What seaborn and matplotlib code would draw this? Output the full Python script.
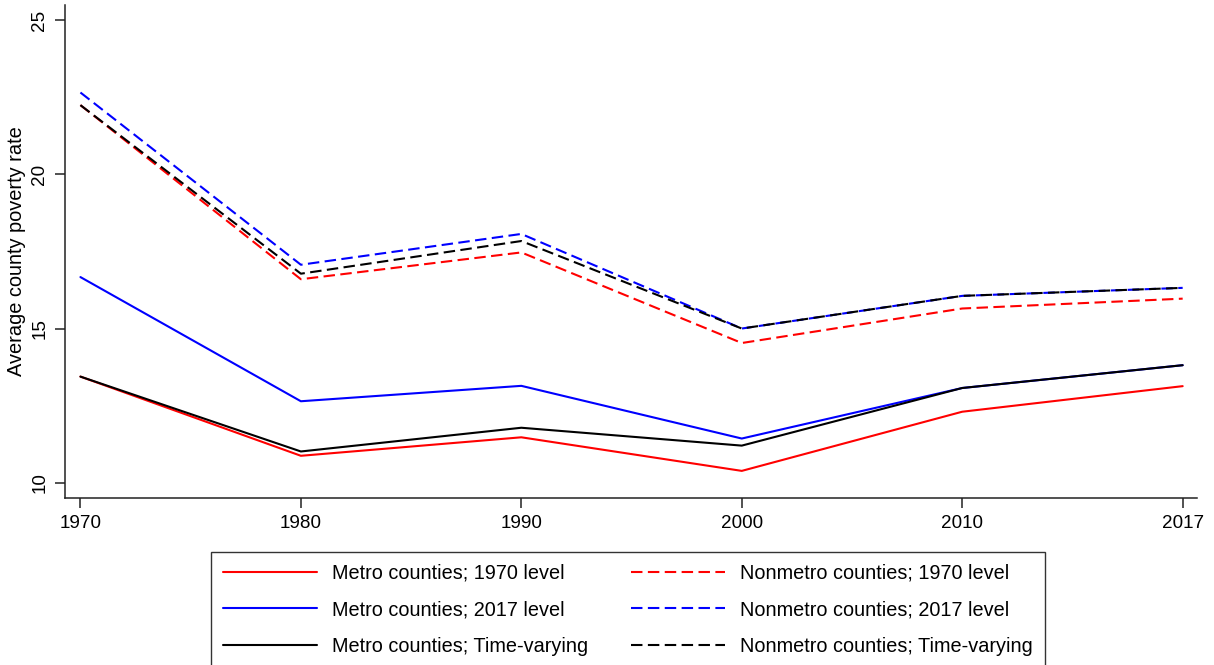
import matplotlib
matplotlib.use("Agg")
import matplotlib.pyplot as plt
import seaborn as sns
import pandas as pd

# Census years shown as evenly spaced categories
years = ["1970", "1980", "1990", "2000", "2010", "2017"]

# Average county poverty rate (%) under different metro definitions
metro_1970_level = [13.44, 10.87, 11.47, 10.38, 12.30, 13.13]
metro_2017_level = [16.67, 12.64, 13.14, 11.43, 13.07, 13.81]
metro_time_varying = [13.44, 11.01, 11.78, 11.20, 13.07, 13.81]
nonmetro_1970_level = [22.25, 16.60, 17.47, 14.53, 15.65, 15.97]
nonmetro_2017_level = [22.66, 17.07, 18.07, 15.00, 16.06, 16.32]
nonmetro_time_varying = [22.25, 16.78, 17.84, 15.00, 16.06, 16.32]

series_labels = [
    "Metro counties; 1970 level",
    "Metro counties; 2017 level",
    "Metro counties; Time-varying",
    "Nonmetro counties; 1970 level",
    "Nonmetro counties; 2017 level",
    "Nonmetro counties; Time-varying",
]
series_values = [
    metro_1970_level, metro_2017_level, metro_time_varying,
    nonmetro_1970_level, nonmetro_2017_level, nonmetro_time_varying,
]
series_colors = ["#ff0000", "#0000ff", "#000000", "#ff0000", "#0000ff", "#000000"]

rows = []
for label, vals in zip(series_labels, series_values):
    for yr, v in zip(years, vals):
        rows.append({"year": yr, "rate": v, "series": label})
df = pd.DataFrame(rows)

sns.set_theme(style="ticks")
plt.rcParams["font.family"] = ["Liberation Sans", "DejaVu Sans"]

fig = plt.figure(figsize=(12.14, 6.65), dpi=100)
ax = fig.add_axes([65 / 1214, 1 - 498 / 665, (1197 - 65) / 1214, (498 - 5) / 665])

palette = dict(zip(series_labels, series_colors))
dashes = {lab: ("" if lab.startswith("Metro") else (5.5, 2.6)) for lab in series_labels}

sns.lineplot(
    data=df, x="year", y="rate", hue="series", style="series",
    hue_order=series_labels, style_order=series_labels,
    palette=palette, dashes=dashes, sort=False, linewidth=1.5,
    estimator=None, ax=ax,
)

ax.set_xlim(-0.07, 5.065)
ax.set_ylim(9.5, 25.5)
ax.set_yticks([10, 15, 20, 25])
ax.set_xlabel("")
ax.set_ylabel("Average county poverty rate", fontsize=14.4, color="black")
ax.yaxis.set_label_coords(-0.0345, 0.5)

for side in ["top", "right"]:
    ax.spines[side].set_visible(False)
for side in ["left", "bottom"]:
    ax.spines[side].set_color("#222222")
    ax.spines[side].set_linewidth(1.1)

ax.tick_params(axis="both", direction="out", length=7, width=1.1, color="#222222",
               labelsize=13.6, labelcolor="black")
ax.tick_params(axis="x", pad=5)
ax.tick_params(axis="y", pad=5)
for lab in ax.get_yticklabels():
    lab.set_rotation(90)
    lab.set_va("center")

handles, labels = ax.get_legend_handles_labels()
ax.get_legend().remove()
leg = fig.legend(
    handles, labels, ncol=2, loc="upper left",
    bbox_to_anchor=(211 / 1214, 1 - 552 / 665), bbox_transform=fig.transFigure,
    frameon=True, fancybox=False, edgecolor="black", fontsize=14.3,
    handlelength=4.72, handletextpad=0.75, columnspacing=2.2,
    labelspacing=0.88, borderpad=0.6, borderaxespad=0, labelcolor="black",
)
leg.get_frame().set_linewidth(1.0)

fig.savefig("out.png", dpi=100, facecolor="white")
